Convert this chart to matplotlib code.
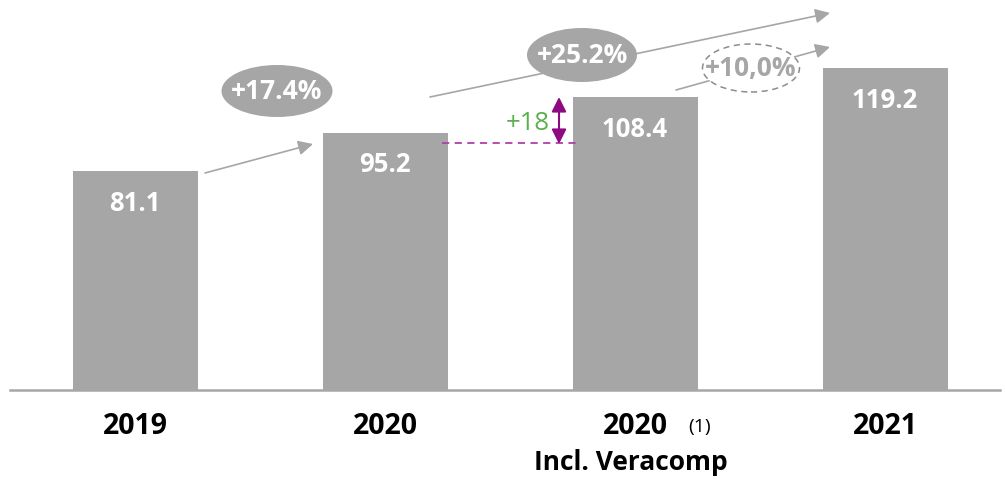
import matplotlib.pyplot as plt
from matplotlib.patches import Ellipse

plt.rcParams['font.family'] = ['Open Sans', 'DejaVu Sans']

# data
years = ['2019', '2020', '2020', '2021']
values = [81.1, 95.2, 108.4, 119.2]
growth = ['+17.4%', '+25.2%', '+10,0%']
veracomp_add = '+18'

GREY = '#a6a6a6'
PURPLE = '#8e0a80'
GREEN = '#5aaf4c'

# pixel -> data helpers (2.7 px per unit, baseline at y=390 px, bars 250 px apart)
SX, SY = 250.0, 2.7
X0, Y0 = 135.0, 390.0


def dx(px):
    return (px - X0) / SX


def dy(py):
    return (Y0 - py) / SY


fig = plt.figure(figsize=(10.05, 4.79), dpi=100)
ax = fig.add_axes([0, 0, 1, 1])
ax.set_xlim(dx(0), dx(1005))
ax.set_ylim(dy(479), dy(0))
ax.axis('off')

xs = list(range(len(values)))
ax.bar(xs, values, width=0.5, color=GREY, zorder=2)
ax.plot([dx(10), dx(1000)], [0, 0], color=GREY, lw=1.8, zorder=3)

# value labels inside bars, ~32 px below the top
for x, v in zip(xs, values):
    ax.text(x, v - 32 / SY, f'{v:.1f}', ha='center', va='center',
            color='white', fontsize=18.5, fontweight='bold', zorder=4)

for x, yr in zip(xs, years):
    ax.text(x, dy(427), yr, ha='center', va='center', fontsize=20.5,
            fontweight='bold', color='black')
ax.text(dx(700), dy(427), '(1)', ha='center', va='center', fontsize=14)
ax.text(dx(631), dy(463), 'Incl. Veracomp', ha='center', va='center',
        fontsize=19, fontweight='bold')

# growth arrows
arrows = [((205, 173), (313, 144)), ((430, 97), (830, 13)), ((676, 90), (830, 47))]
for (x1, y1), (x2, y2) in arrows:
    ax.annotate('', xy=(dx(x2), dy(y2)), xytext=(dx(x1), dy(y1)),
                arrowprops=dict(arrowstyle='-|>', color=GREY, lw=1.2,
                                mutation_scale=22, shrinkA=0, shrinkB=0),
                zorder=3)

# growth bubbles
bubbles = [(277, 91, 111, 52), (582, 55, 110, 54), (751, 68, 97, 48)]
for i, (cx, cy, w, h) in enumerate(bubbles):
    if i < 2:
        e = Ellipse((dx(cx), dy(cy)), w / SX, h / SY, facecolor=GREY,
                    edgecolor='none', zorder=5)
        tc = 'white'
    else:
        e = Ellipse((dx(cx), dy(cy)), w / SX, h / SY, facecolor='white',
                    edgecolor='#8c8c8c', lw=1.1, ls=(0, (4, 3)), zorder=5)
        tc = GREY
    ax.add_patch(e)
    ax.text(dx(cx), dy(cy + 1), growth[i], ha='center', va='center',
            color=tc, fontsize=19, fontweight='bold', zorder=6)

# Veracomp contribution
ax.plot([dx(442), dx(578)], [dy(143), dy(143)], color='#b040a8', lw=1.3,
        ls=(0, (4, 3)), zorder=3)
ax.annotate('', xy=(dx(559), dy(97)), xytext=(dx(559), dy(144)),
            arrowprops=dict(arrowstyle='<|-|>', color=PURPLE, lw=1.5,
                            mutation_scale=22, shrinkA=0, shrinkB=0),
            zorder=4)
ax.text(dx(528), dy(124), veracomp_add, ha='center', va='center',
        color=GREEN, fontsize=18.5, zorder=4)

fig.savefig('out.png', dpi=100)
